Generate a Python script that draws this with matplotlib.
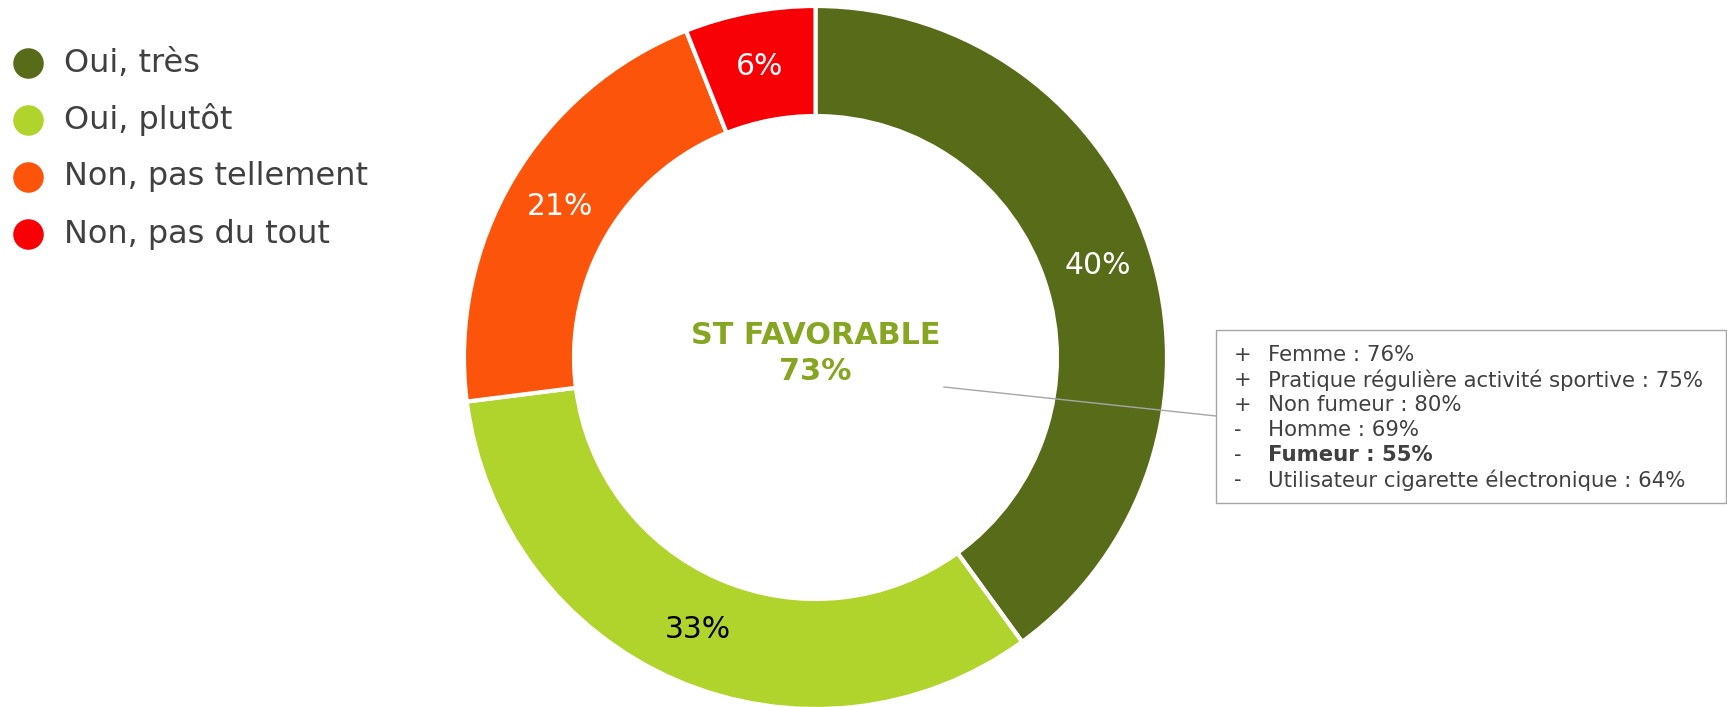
import matplotlib
matplotlib.use("Agg")
import matplotlib.pyplot as plt
from matplotlib.patches import Rectangle

# data
categories = ["Oui, très", "Oui, plutôt", "Non, pas tellement", "Non, pas du tout"]
values = [40, 33, 21, 6]
colors = ["#586B18", "#B0D42C", "#FC540A", "#F70006"]
label_colors = ["white", "black", "white", "white"]

center_title = "ST FAVORABLE"
center_value = "73%"

detail_signs = ["+", "+", "+", "-", "-", "-"]
detail_labels = ["Femme : 76%", "Pratique régulière activité sportive : 75%",
                 "Non fumeur : 80%", "Homme : 69%", "Fumeur : 55%",
                 "Utilisateur cigarette électronique : 64%"]
detail_bold = [False, False, False, False, True, False]

W, H = 1727, 707
fig = plt.figure(figsize=(W / 100, H / 100), dpi=100)
ax = fig.add_axes([0, 0, 1, 1])
ax.set_xlim(0, W)
ax.set_ylim(0, H)
ax.set_aspect("equal")
ax.axis("off")

cx, cy = 815.5, H - 357.5
R = 351.5
ring = 0.313

wedges, texts, autotexts = ax.pie(
    values, colors=colors, startangle=90, counterclock=False,
    center=(cx, cy), radius=R, autopct="%d%%", pctdistance=1 - ring / 2,
    wedgeprops=dict(width=R * ring, edgecolor="white", linewidth=3),
    textprops=dict(fontsize=21.5))
for t, c in zip(autotexts, label_colors):
    t.set_color(c)
ax.set_xlim(0, W)
ax.set_ylim(0, H)

# centre text
ax.text(cx, H - 336, center_title, ha="center", va="center", fontsize=21.8,
        fontweight="bold", color="#86A520")
ax.text(cx, H - 371, center_value, ha="center", va="center", fontsize=21.8,
        fontweight="bold", color="#86A520")

# legend
for i, (cat, col) in enumerate(zip(categories, colors)):
    y = H - (63 + 57 * i)
    ax.plot(28, y, "o", markersize=22, color=col, markeredgewidth=0)
    ax.text(64, y, cat, ha="left", va="center", fontsize=23, color="#404040")

# callout
ax.plot([944, 1216], [H - 387, H - 416], color="#A6A6A6", linewidth=1)
ax.add_patch(Rectangle((1216, H - 503), 510, 173, facecolor="white",
                       edgecolor="#A6A6A6", linewidth=1))
for i, (s, lab, b) in enumerate(zip(detail_signs, detail_labels, detail_bold)):
    y = H - (355 + 25 * i)
    ax.text(1234, y, s, ha="left", va="center", fontsize=15, color="#404040")
    ax.text(1268, y, lab, ha="left", va="center", fontsize=15.3, color="#404040",
            fontweight="bold" if b else "normal")

fig.savefig("out.png", dpi=100)
